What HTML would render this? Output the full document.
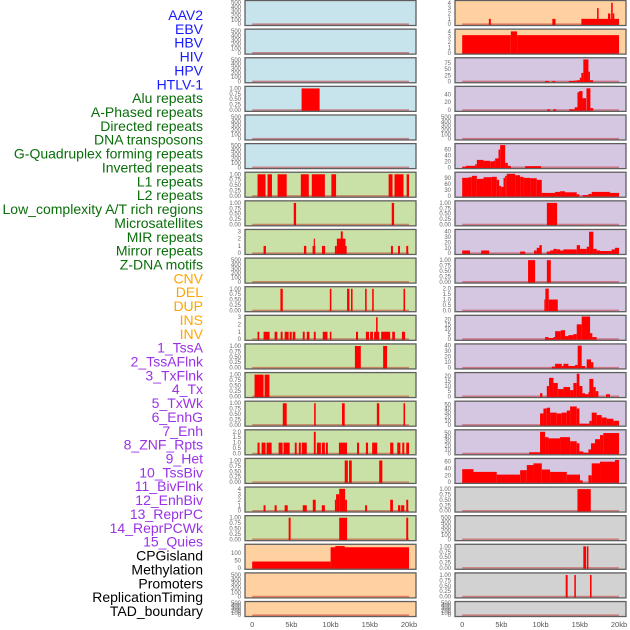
<!DOCTYPE html>
<html><head><meta charset="utf-8"><style>
html,body{margin:0;padding:0;background:#fff;}
svg{display:block;font-family:"Liberation Sans",sans-serif;}
</style></head><body>
<svg id="chart" width="630" height="630" viewBox="0 0 630 630" xmlns="http://www.w3.org/2000/svg">
<g id="labels"></g>
<g id="panels"></g>
</svg>
<script>
// ---- data ----
const trackNames = ["AAV2","EBV","HBV","HIV","HPV","HTLV-1","Alu repeats","A-Phased repeats","Directed repeats","DNA transposons","G-Quadruplex forming repeats","Inverted repeats","L1 repeats","L2 repeats","Low_complexity A/T rich regions","Microsatellites","MIR repeats","Mirror repeats","Z-DNA motifs","CNV","DEL","DUP","INS","INV","1_TssA","2_TssAFlnk","3_TxFlnk","4_Tx","5_TxWk","6_EnhG","7_Enh","8_ZNF_Rpts","9_Het","10_TssBiv","11_BivFlnk","12_EnhBiv","13_ReprPC","14_ReprPCWk","15_Quies","CPGisland","Methylation","Promoters","ReplicationTiming","TAD_boundary"];
const trackGroups = [0,0,0,0,0,0,1,1,1,1,1,1,1,1,1,1,1,1,1,2,2,2,2,2,3,3,3,3,3,3,3,3,3,3,3,3,3,3,3,4,4,4,4,4];
const groupLabelColors = ["#1a1aff","#0a6e0a","#ffa500","#9a32e6","#000000"];
const groupBgColors = ["#c7e3ec","#c9e1a6","#ffd1a0","#d5c6e2","#d2d2d2"];
const xTickValues = [0,5,10,15,20];
const xTickLabels = ["0","5kb","10kb","15kb","20kb"];

// segments: [startKb, endKb, value]
const seg0 = [];
const seg1 = [];
const seg2 = [];
const seg3 = [[6.3,8.6,1]];
const seg4 = [];
const seg5 = [];
const seg6 = [[0.68,1.7,1],[1.96,2.52,1],[3.24,4.4,1],[6.2,7.22,1],[7.6,9.27,1],[10.1,10.7,1],[17.4,17.9,1],[18.15,19.3,1],[19.7,20,1]];
const seg7 = [[5.3,5.6,1],[17.8,18.1,1]];
const seg8 = [[1.45,1.75,1],[6.6,6.9,1],[7.7,8.05,1],[7.85,8.0,2],[8.9,9.3,1],[10.55,10.8,1],[10.8,11.9,2],[11.3,11.55,3],[11.9,12.05,1],[17.7,17.95,1],[18.6,18.85,1],[19.65,19.9,1]];
const seg9 = [];
const seg10 = [[3.6,3.9,1],[9.9,10.1,1],[12.1,12.4,1],[12.6,12.8,1],[14.4,14.6,1],[15.3,15.5,1],[19.3,19.5,1]];
const seg11 = [[0.68,0.9,1],[1.45,2.22,1],[2.86,3.2,1],[3.63,3.88,1],[4.14,4.65,1],[4.78,5.04,1],[5.17,5.5,1],[6.45,6.7,1],[6.96,7.3,1],[7.86,8.1,1],[9.0,9.6,1],[9.9,10.1,1],[13.24,13.5,1],[14.5,14.9,1],[15.04,15.4,1],[15.55,16.2,1],[15.8,16.0,3],[16.45,17.6,1],[17.86,18.2,1],[19.1,19.5,1]];
const seg12 = [[13.1,13.85,1],[16.7,17.2,1]];
const seg13 = [[0.3,1.45,1],[1.58,2.2,1]];
const seg14 = [[3.9,4.4,1],[7.9,8.1,1],[11.45,11.8,1],[15.9,16.2,1],[19.3,19.5,1]];
const seg15 = [[0.68,0.94,1],[1.2,1.7,1],[1.83,2.48,1],[3.37,3.88,1],[4.0,4.78,1],[5.43,5.68,1],[5.94,6.2,1],[6.32,6.96,1],[7.86,8.1,2],[8.25,8.76,1],[8.88,9.27,1],[9.4,9.65,1],[11.06,12.09,1],[13.37,13.63,1],[14.5,14.78,1],[15.3,15.94,1],[17.6,18.0,1],[18.5,18.9,1],[19.14,19.4,1],[19.65,20.0,1]];
const seg16 = [[11.8,12.2,1],[12.35,12.7,1],[16.2,16.6,1]];
const seg17 = [[1.45,1.7,1],[2.86,3.12,1],[4.14,4.53,1],[6.45,6.96,1],[7.73,8.1,2],[8.88,9.27,1],[10.55,10.7,2],[10.7,11.1,3],[11.1,11.85,4],[11.85,12.09,2],[14.4,14.65,1],[17.6,17.95,2],[18.6,18.9,1],[19.0,19.4,1],[19.65,19.9,2]];
const seg18 = [[4.65,4.9,1],[11.1,12.1,1],[19.65,19.9,1]];
const seg19 = [[0,10,43],[10,20,138],[10.6,11.8,146]];
const seg20 = [];
const seg21 = [];
const seg22 = [[3.4,3.65,1],[11.5,11.9,1],[15.2,20,1],[17.2,17.4,3],[18.6,18.9,2],[19.0,19.2,4],[19.2,19.4,2]];
const seg23 = [[0,6.2,3.3],[6.2,7.0,4],[7.0,20,3.3]];
const seg24 = [[10.57,11.08,2],[11.5,11.85,2],[13.6,14.2,2],[14.2,14.6,3],[14.6,15.0,5],[15.0,15.2,15],[15.2,15.45,35],[15.45,16.1,90],[16.1,16.3,40],[16.3,16.7,5]];
const seg25 = [[10.85,11.2,2],[11.6,12.0,2],[13.65,14.35,2],[14.35,14.7,7],[14.7,14.9,45],[14.9,15.35,48],[15.35,15.8,30],[15.85,16.35,55],[16.35,16.7,5]];
const seg26 = [];
const seg27 = [[0,0.46,2],[0.46,1.65,5],[1.65,1.87,10],[1.87,2.72,25],[2.72,3.57,22],[3.57,3.99,20],[3.99,4.2,22],[4.2,4.63,30],[4.63,4.84,60],[4.84,5.48,75],[5.48,5.82,15],[5.82,6.2,5],[8.03,10.06,4]];
const seg28 = [[0,0.8,90],[0.8,1.23,93],[1.23,1.87,100],[1.87,2.72,85],[2.72,3.78,93],[3.78,4.41,95],[4.41,4.71,80],[4.71,4.97,50],[4.97,5.27,45],[5.27,5.48,90],[5.48,5.69,100],[5.69,6.75,110],[6.75,7.39,103],[7.39,7.81,95],[7.81,8.66,90],[8.66,9.51,88],[9.51,10.15,80],[10.15,11.85,15],[11.85,12.48,20],[12.48,13.12,23],[13.12,14.61,18],[14.61,14.95,8],[15.37,16.1,4],[16.1,16.52,10],[16.52,18.85,20],[18.85,20,15]];
const seg29 = [[10.8,12.1,1]];
const seg30 = [[0,1.0,5],[2.42,3.44,5],[7.39,8.03,3],[9.17,9.51,5],[9.51,9.85,10],[9.85,10.15,15],[10.79,11.21,3],[11.21,11.64,5],[11.64,12.06,8],[12.06,12.48,7],[12.48,12.91,5],[12.91,14.61,7],[14.61,15.03,15],[15.03,15.88,8],[15.88,16.18,12],[16.18,16.73,40],[16.73,17.15,8],[17.15,17.58,5],[17.58,19.06,4],[19.06,19.49,7],[19.49,20,10]];
const seg31 = [[8.4,9.3,1],[10.8,11.3,1]];
const seg32 = [[10.48,10.61,1],[10.61,11.04,2],[11.04,12.19,1]];
const seg33 = [[10.57,11.0,2],[11.0,11.64,1],[11.64,11.85,2],[11.85,12.57,8],[12.57,13.12,9],[13.12,13.55,3],[13.55,14.18,4],[14.18,14.61,5],[14.61,15.24,15],[15.24,16.31,23],[16.31,16.6,6],[16.6,17.15,2]];
const seg34 = [[11.43,11.85,2],[11.85,12.7,7],[12.7,12.91,3],[12.91,13.55,7],[13.55,14.4,3],[14.4,14.73,5],[14.73,15.24,40],[15.24,15.67,3],[15.88,16.43,15],[16.43,16.73,10]];
const seg35 = [[9.93,10.23,3],[10.79,11.08,10],[11.08,11.64,18],[11.64,12.19,13],[12.19,12.91,7],[12.91,13.76,9],[13.76,14.18,6],[14.18,14.61,13],[14.61,14.95,22],[14.95,15.33,10],[15.33,15.67,3],[15.67,16.1,2],[16.1,16.22,4],[16.22,16.73,17],[16.73,17.03,9],[17.03,17.37,5],[18.35,18.85,2]];
const seg36 = [[9.93,10.36,28],[10.36,10.79,40],[10.79,11.21,42],[11.21,12.06,30],[12.06,12.7,28],[12.7,13.34,30],[13.34,13.76,35],[13.76,14.61,45],[14.61,14.95,40],[14.95,16.22,3],[16.22,16.52,10],[16.52,17.15,30],[17.15,17.79,24],[17.79,18.43,18],[18.43,19.28,15],[19.28,20,10]];
const seg37 = [[8.54,9.93,3],[9.93,10.57,53],[10.57,11.0,40],[11.0,12.48,37],[12.48,13.76,40],[13.76,14.61,30],[14.61,14.95,25],[14.95,15.46,5],[15.46,16.1,2],[16.1,16.43,10],[16.43,16.94,25],[16.94,17.58,35],[17.58,18.0,45],[18.0,20,50]];
const seg38 = [[0,1.44,38],[1.44,4.41,30],[4.41,7.39,22],[7.39,8.24,35],[8.24,9.09,50],[9.09,10.15,55],[10.15,11.21,37],[11.21,13.34,30],[13.34,15.03,22],[15.03,15.37,5],[16.1,16.52,20],[16.52,17.58,55],[17.58,19.49,60],[19.49,20,65]];
const seg39 = [[14.7,16.4,1]];
const seg40 = [];
const seg41 = [[15.45,15.8,1],[15.9,16.1,1]];
const seg42 = [[13.2,13.45,1],[14.3,14.5,1],[16.3,16.5,1]];
const seg43 = [];
const allSegs = [seg0,seg1,seg2,seg3,seg4,seg5,seg6,seg7,seg8,seg9,seg10,seg11,seg12,seg13,seg14,seg15,seg16,seg17,seg18,seg19,seg20,seg21,seg22,seg23,seg24,seg25,seg26,seg27,seg28,seg29,seg30,seg31,seg32,seg33,seg34,seg35,seg36,seg37,seg38,seg39,seg40,seg41,seg42,seg43];
// y-axis maximum and tick labels per panel
const yMaxes = [520,520,520,1.04,520,520,1.04,1.04,3.1,520,1.04,3.1,1.04,1.04,1.04,2.07,1.04,4.1,1.04,150,520,520,4.2,4.2,92,57,520,76,112,1.04,42,1.04,2.07,23,41,22,55,55,66,1.04,520,1.04,1.04,520];
const tickSets = {
  e:["0","100","200","300","400","500"],
  p:["0.00","0.25","0.50","0.75","1.00"],
  c3:["0","1","2","3"], c4:["0","1","2","3","4"],
  h2:["0.0","0.5","1.0","1.5","2.0"]
};
const yTickKeys = ["e","e","e","p","e","e","p","p","c3","e","p","c3","p","p","p","h2","p","c4","p","0,50,100","e","e","c4","c4","0,25,50,75","0,20,40","e","0,20,40,60","0,30,60,90","p","0,10,20,30,40","p","h2","0,5,10,15,20","0,10,20,30,40","0,5,10,15,20","0,10,20,30,40,50","0,10,20,30,40,50","0,20,40,60","p","e","p","p","e"];

// ---- drawing ----
const NS = "http://www.w3.org/2000/svg";
const svg = document.getElementById('chart');
const labelsG = document.getElementById('labels');
const panelsG = document.getElementById('panels');
function mk(tag, attrs, parent){const e=document.createElementNS(NS,tag);for(const k in attrs)e.setAttribute(k,attrs[k]);parent.appendChild(e);return e;}

trackNames.forEach((n,i)=>{
  const t = mk('text',{x:203,y:20+i*13.86,'text-anchor':'end','font-size':14,fill:groupLabelColors[trackGroups[i]]},labelsG);
  
  
  t.textContent = n;
});

const colX = [245,455];
const panelW = 171;
const rowPitch = 28.62;
function xScale(col, kb){ return colX[col] + 7.2 + kb*7.84; }

trackNames.forEach((n,i)=>{
  const col = i<22?0:1;
  const row = i%22;
  const top = 0.5 + row*rowPitch;
  const h = row===21?15:25;
  const bottom = top+h;
  const ymax = yMaxes[i];
  const yScale = v => (bottom-1.3) - v/ymax*(h-2.5);
  const g = mk('g',{},panelsG);
  
  
  const bg = mk('rect',{x:colX[col],y:top,width:panelW,height:h,fill:groupBgColors[trackGroups[i]]},g);
  
  
  // baseline
  const bl = mk('line',{x1:xScale(col,0),x2:xScale(col,20),y1:yScale(0),y2:yScale(0),stroke:'rgba(190,0,0,0.4)','stroke-width':1.6},g);
  
  
  allSegs[i].forEach(s=>{
    const x1 = xScale(col,s[0]), x2 = xScale(col,s[1]);
    const y = yScale(Math.min(s[2],ymax));
    const r = mk('rect',{x:x1,y:y,width:Math.max(1,x2-x1),height:yScale(0)-y+0.8,fill:'#ff0000'},g);
    
    
  });
  const br = mk('rect',{x:colX[col],y:top,width:panelW,height:h,fill:'none',stroke:'#5f5f5f','stroke-width':1.3},g);
  
  
  // y ticks
  const key = yTickKeys[i];
  const ticks = tickSets[key] || key.split(',');
  ticks.forEach(tl=>{
    const v = parseFloat(tl);
    const tt = mk('text',{x:colX[col]-4,y:yScale(v)+2,'text-anchor':'end','font-size':6,fill:'#666'},g);
    
    
    tt.textContent = tl;
  });
});

// x axis ticks
[0,1].forEach(col=>{
  xTickValues.forEach((v,k)=>{
    const t = mk('text',{x:xScale(col,v),y:627,'text-anchor':'middle','font-size':7.5,fill:'#555'},svg);
    
    
    t.textContent = xTickLabels[k];
  });
});
</script>
</body></html>
